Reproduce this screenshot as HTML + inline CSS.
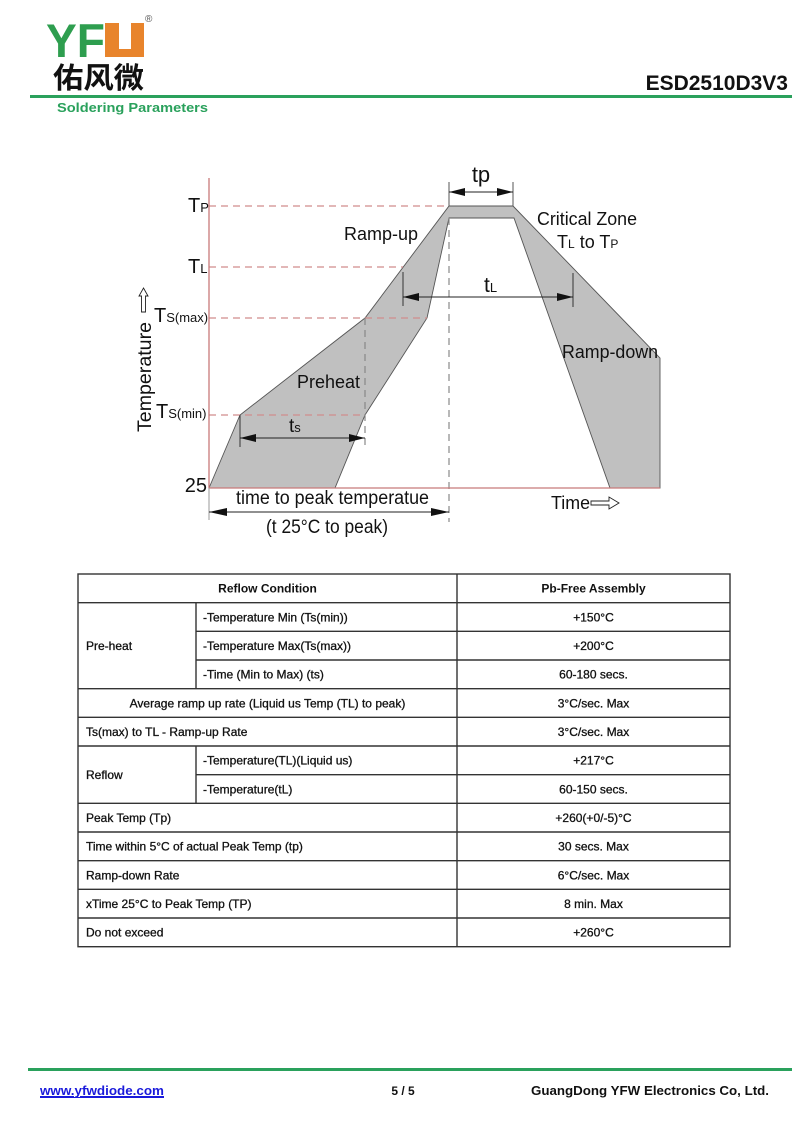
<!DOCTYPE html>
<html><head><meta charset="utf-8"><style>
html,body{margin:0;padding:0;background:#fff;}
svg{display:block;}
text{font-family:"Liberation Sans",Arial,sans-serif;}
</style></head><body>
<svg width="800" height="1131" viewBox="0 0 800 1131" xmlns="http://www.w3.org/2000/svg">
<rect width="800" height="1131" fill="#fff"/>
<!-- Header logo -->
<text x="46" y="57" font-size="47" font-weight="bold" fill="#2e9e4f" textLength="59" lengthAdjust="spacingAndGlyphs">YF</text>
<path d="M105 23 H119 V49 H131 V23 H144 V57 H105 Z" fill="#e8842c"/>
<text x="145" y="22" font-size="10" fill="#555">®</text>
<text x="53" y="88" font-size="29" font-weight="bold" fill="#111" font-family="'Noto Sans CJK SC',sans-serif" style="font-family:'Noto Sans CJK SC','WenQuanYi Zen Hei',sans-serif" textLength="91" lengthAdjust="spacingAndGlyphs">佑风微</text>
<text x="788" y="90" font-size="21" font-weight="bold" fill="#111" text-anchor="end">ESD2510D3V3</text>
<rect x="30" y="95" width="762" height="3" fill="#2aa15c"/>
<text x="57" y="112" font-size="13" font-weight="bold" fill="#2aa15c" textLength="151" lengthAdjust="spacingAndGlyphs">Soldering Parameters</text>

<!-- Chart -->
<polygon points="209,488 240,415 365,318 449,206 513,206 660,358 660,488 610,488 514,218 449,218 427,318 365,415 335,488" fill="#c0c0c0" stroke="#555" stroke-width="0.9"/>
<!-- red dashed levels -->
<g stroke="#d08c8c" stroke-width="1.2" stroke-dasharray="7,5" fill="none">
<line x1="209" y1="206" x2="449" y2="206"/>
<line x1="209" y1="267" x2="403" y2="267"/>
<line x1="209" y1="318" x2="427" y2="318"/>
<line x1="209" y1="415" x2="365" y2="415"/>
</g>
<!-- gray dashed verticals -->
<g stroke="#888" stroke-width="1.2" stroke-dasharray="7,5" fill="none">
<line x1="365" y1="318" x2="365" y2="447"/>
<line x1="449" y1="218" x2="449" y2="522"/>
</g>
<!-- axes -->
<line x1="209" y1="178" x2="209" y2="488" stroke="#c87a7a" stroke-width="1.3"/>
<line x1="209" y1="488" x2="660" y2="488" stroke="#c87a7a" stroke-width="1.3"/>
<line x1="209" y1="488" x2="209" y2="520" stroke="#999" stroke-width="1"/>
<!-- tp -->
<line x1="449" y1="182" x2="449" y2="206" stroke="#555" stroke-width="1"/>
<line x1="513" y1="182" x2="513" y2="206" stroke="#555" stroke-width="1"/>
<line x1="449" y1="192" x2="513" y2="192" stroke="#222" stroke-width="1"/>
<polygon points="449,192 465,188 465,196" fill="#111"/>
<polygon points="513,192 497,188 497,196" fill="#111"/>
<text x="481" y="182" font-size="22" text-anchor="middle" fill="#111">tp</text>
<!-- tL -->
<line x1="403" y1="272" x2="403" y2="306" stroke="#333" stroke-width="1"/>
<line x1="573" y1="273" x2="573" y2="307" stroke="#333" stroke-width="1"/>
<line x1="403" y1="297" x2="573" y2="297" stroke="#222" stroke-width="1"/>
<polygon points="403,297 419,293 419,301" fill="#111"/>
<polygon points="573,297 557,293 557,301" fill="#111"/>
<text x="484" y="292" font-size="21" fill="#111">t<tspan font-size="13">L</tspan></text>
<!-- ts -->
<line x1="240" y1="415" x2="240" y2="447" stroke="#333" stroke-width="1"/>
<line x1="240" y1="438" x2="365" y2="438" stroke="#222" stroke-width="1"/>
<polygon points="240,438 256,434 256,442" fill="#111"/>
<polygon points="365,438 349,434 349,442" fill="#111"/>
<text x="289" y="432" font-size="19" fill="#111">t<tspan font-size="13">s</tspan></text>
<!-- time to peak -->
<line x1="209" y1="512" x2="449" y2="512" stroke="#222" stroke-width="1"/>
<polygon points="209,512 227,508 227,516" fill="#111"/>
<polygon points="449,512 431,508 431,516" fill="#111"/>
<text x="236" y="504" font-size="19" fill="#111" textLength="193" lengthAdjust="spacingAndGlyphs">time to peak temperatue</text>
<text x="266" y="533" font-size="19" fill="#111" textLength="122" lengthAdjust="spacingAndGlyphs">(t 25°C to peak)</text>
<!-- left labels -->
<text x="188" y="212" font-size="20" fill="#111">T<tspan font-size="13">P</tspan></text>
<text x="188" y="273" font-size="20" fill="#111">T<tspan font-size="13">L</tspan></text>
<text x="154" y="322" font-size="20" fill="#111">T<tspan font-size="13">S(max)</tspan></text>
<text x="156" y="418" font-size="20" fill="#111">T<tspan font-size="13">S(min)</tspan></text>
<text x="207" y="492" font-size="20" fill="#111" text-anchor="end">25</text>
<text transform="translate(151,432) rotate(-90)" font-size="19" fill="#111" textLength="110" lengthAdjust="spacingAndGlyphs">Temperature</text>
<polygon points="143.5,288 148,296 145.5,296 145.5,312 141.5,312 141.5,296 139,296" fill="#fff" stroke="#222" stroke-width="0.9"/>
<!-- chart labels -->
<text x="344" y="240" font-size="18" fill="#111" textLength="74" lengthAdjust="spacingAndGlyphs">Ramp-up</text>
<text x="537" y="225" font-size="18" fill="#111" textLength="100" lengthAdjust="spacingAndGlyphs">Critical Zone</text>
<text x="557" y="248" font-size="18" fill="#111">T<tspan font-size="12">L</tspan> to T<tspan font-size="12">P</tspan></text>
<text x="562" y="358" font-size="18" fill="#111" textLength="96" lengthAdjust="spacingAndGlyphs">Ramp-down</text>
<text x="297" y="388" font-size="18" fill="#111" textLength="63" lengthAdjust="spacingAndGlyphs">Preheat</text>
<text x="551" y="509" font-size="18" fill="#111" textLength="39" lengthAdjust="spacingAndGlyphs">Time</text>
<polygon points="591,501 609,501 609,497 619,503 609,509 609,505 591,505" fill="#fff" stroke="#222" stroke-width="0.9"/>

<!-- Table -->
<g stroke="#333" stroke-width="1.4" fill="none">
<rect x="78" y="574" width="652" height="372.7"/>
<line x1="457" y1="574" x2="457" y2="946.7"/>
<line x1="196" y1="602.7" x2="196" y2="688.7"/>
<line x1="196" y1="746" x2="196" y2="803.3"/>
<line x1="78" y1="602.7" x2="730" y2="602.7"/>
<line x1="196" y1="631.3" x2="730" y2="631.3"/>
<line x1="196" y1="660" x2="730" y2="660"/>
<line x1="78" y1="688.7" x2="730" y2="688.7"/>
<line x1="78" y1="717.3" x2="730" y2="717.3"/>
<line x1="78" y1="746" x2="730" y2="746"/>
<line x1="196" y1="774.7" x2="730" y2="774.7"/>
<line x1="78" y1="803.3" x2="730" y2="803.3"/>
<line x1="78" y1="832" x2="730" y2="832"/>
<line x1="78" y1="860.7" x2="730" y2="860.7"/>
<line x1="78" y1="889.3" x2="730" y2="889.3"/>
<line x1="78" y1="918" x2="730" y2="918"/>
</g>
<g font-size="12" fill="#111" stroke="#111" stroke-width="0.3">
<text x="267.5" y="592.5" text-anchor="middle" font-weight="bold" stroke="none">Reflow Condition</text>
<text x="593.5" y="592.5" text-anchor="middle" font-weight="bold" stroke="none">Pb-Free Assembly</text>
<text x="203" y="621.3">-Temperature Min (Ts(min))</text>
<text x="593.5" y="621.3" text-anchor="middle">+150°C</text>
<text x="86" y="650">Pre-heat</text>
<text x="203" y="650">-Temperature Max(Ts(max))</text>
<text x="593.5" y="650" text-anchor="middle">+200°C</text>
<text x="203" y="678.7">-Time (Min to Max) (ts)</text>
<text x="593.5" y="678.7" text-anchor="middle">60-180 secs.</text>
<text x="267.5" y="707.3" text-anchor="middle">Average ramp up rate (Liquid us Temp (TL) to peak)</text>
<text x="593.5" y="707.3" text-anchor="middle">3°C/sec. Max</text>
<text x="86" y="736">Ts(max) to TL - Ramp-up Rate</text>
<text x="593.5" y="736" text-anchor="middle">3°C/sec. Max</text>
<text x="203" y="764.7">-Temperature(TL)(Liquid us)</text>
<text x="593.5" y="764.7" text-anchor="middle">+217°C</text>
<text x="86" y="779">Reflow</text>
<text x="203" y="793.3">-Temperature(tL)</text>
<text x="593.5" y="793.3" text-anchor="middle">60-150 secs.</text>
<text x="86" y="822">Peak Temp (Tp)</text>
<text x="593.5" y="822" text-anchor="middle">+260(+0/-5)°C</text>
<text x="86" y="850.7">Time within 5°C of actual Peak Temp (tp)</text>
<text x="593.5" y="850.7" text-anchor="middle">30 secs. Max</text>
<text x="86" y="879.3">Ramp-down Rate</text>
<text x="593.5" y="879.3" text-anchor="middle">6°C/sec. Max</text>
<text x="86" y="908">xTime 25°C to Peak Temp (TP)</text>
<text x="593.5" y="908" text-anchor="middle">8 min. Max</text>
<text x="86" y="936.7">Do not exceed</text>
<text x="593.5" y="936.7" text-anchor="middle">+260°C</text>
</g>

<!-- Footer -->
<rect x="28" y="1068" width="764" height="3" fill="#2aa15c"/>
<text x="40" y="1095" font-size="12.5" font-weight="bold" fill="#1a1adb" textLength="124" lengthAdjust="spacingAndGlyphs" text-decoration="underline">www.yfwdiode.com</text>
<line x1="40" y1="1097.5" x2="164" y2="1097.5" stroke="#1a1adb" stroke-width="1"/>
<text x="403" y="1095" font-size="12" font-weight="bold" fill="#111" text-anchor="middle">5 / 5</text>
<text x="531" y="1095" font-size="12.5" font-weight="bold" fill="#111" textLength="238" lengthAdjust="spacingAndGlyphs">GuangDong YFW Electronics Co, Ltd.</text>
</svg>
</body></html>
